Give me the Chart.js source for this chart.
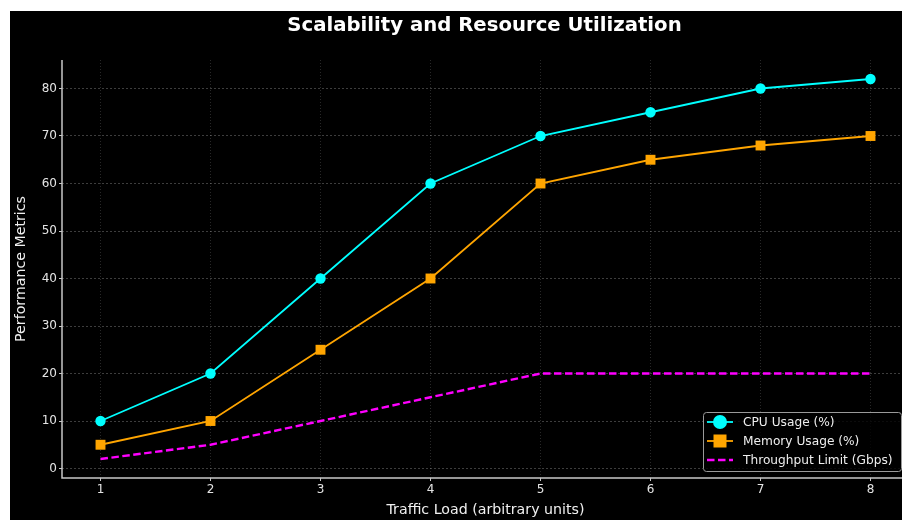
<!DOCTYPE html>
<html>
<head>
<meta charset="utf-8">
<script src="https://cdn.jsdelivr.net/npm/chart.js@4.4.1/dist/chart.umd.min.js"></script>
<style>
  html, body { margin: 0; padding: 0; background: #ffffff; }
  #frame { position: absolute; left: 10px; top: 11px; width: 892px; height: 509px; background: #000000; overflow: hidden; }
  #chart { display: block; }
</style>
</head>
<body>
<div id="frame"><canvas id="chart" width="920" height="509"></canvas></div>
<script>
// Traffic load steps and measured metrics
const trafficLoad = [1, 2, 3, 4, 5, 6, 7, 8];
const cpuUsage = [10, 20, 40, 60, 70, 75, 80, 82];
const memoryUsage = [5, 10, 25, 40, 60, 65, 68, 70];
const throughputLimit = [2, 5, 10, 15, 20, 20, 20, 20];
const yTickValues = [0, 10, 20, 30, 40, 50, 60, 70, 80];
const xTickValues = [1, 2, 3, 4, 5, 6, 7, 8];

const titleText = 'Scalability and Resource Utilization';
const FONT = '"DejaVu Sans", "Liberation Sans", sans-serif';
const AXIS_COLOR = '#c8c8c8';

const toPoints = (vals) => trafficLoad.map((x, i) => ({ x: x, y: vals[i] }));

// Title centred over the plot area, plus solid left/bottom spines
const framePlugin = {
  id: 'plotFrame',
  afterDraw(chart) {
    const { ctx, chartArea } = chart;
    ctx.save();
    ctx.fillStyle = '#ffffff';
    ctx.font = 'bold 19.7px ' + FONT;
    ctx.textAlign = 'center';
    ctx.textBaseline = 'middle';
    ctx.fillText(titleText, (chartArea.left + chartArea.right) / 2 - 1, 15);
    ctx.restore();
  },
  afterDatasetsDraw(chart) {
    const { ctx, chartArea } = chart;
    ctx.save();
    ctx.setLineDash([]);
    ctx.strokeStyle = AXIS_COLOR;
    ctx.lineWidth = 1.5;
    ctx.beginPath();
    ctx.moveTo(chartArea.left, chartArea.top);
    ctx.lineTo(chartArea.left, chartArea.bottom);
    ctx.lineTo(chartArea.right, chartArea.bottom);
    ctx.stroke();
    ctx.restore();
  }
};

// Legend box in the lower-right corner of the plot
const legendPlugin = {
  id: 'insetLegend',
  afterDatasetsDraw(chart) {
    const { ctx, chartArea } = chart;
    const boxW = 198, boxH = 59;
    const bx = chartArea.right - 206, by = chartArea.bottom - 66;
    ctx.save();
    ctx.beginPath();
    ctx.roundRect(bx + 0.5, by + 0.5, boxW, boxH, 3);
    ctx.fillStyle = 'rgba(0,0,0,0.8)';
    ctx.fill();
    ctx.strokeStyle = '#9a9a9a';
    ctx.lineWidth = 1;
    ctx.stroke();
    chart.data.datasets.forEach((ds, i) => {
      const cy = by + 10 + i * 19;
      const x0 = bx + 4, x1 = bx + 30, mx = (x0 + x1) / 2;
      ctx.beginPath();
      ctx.setLineDash(ds.borderDash || []);
      ctx.strokeStyle = ds.borderColor;
      ctx.lineWidth = ds.borderWidth;
      ctx.moveTo(x0, cy);
      ctx.lineTo(x1, cy);
      ctx.stroke();
      ctx.setLineDash([]);
      if (ds.pointRadius > 0) {
        ctx.fillStyle = ds.pointBackgroundColor;
        ctx.beginPath();
        if (ds.pointStyle === 'rect') {
          ctx.rect(mx - 6.5, cy - 6.5, 13, 13);
        } else {
          ctx.arc(mx, cy, 7, 0, Math.PI * 2);
        }
        ctx.fill();
      }
      ctx.fillStyle = '#eeeeee';
      ctx.font = '12.2px ' + FONT;
      ctx.textAlign = 'left';
      ctx.textBaseline = 'middle';
      ctx.fillText(ds.label, bx + 40, cy + 1);
    });
    ctx.restore();
  }
};

const tickFont = { family: FONT, size: 12 };
const labelFont = { family: FONT, size: 14.2 };

new Chart(document.getElementById('chart'), {
  type: 'line',
  data: {
    datasets: [
      {
        label: 'CPU Usage (%)',
        data: toPoints(cpuUsage),
        borderColor: '#00ffff',
        backgroundColor: '#00ffff',
        pointBackgroundColor: '#00ffff',
        pointBorderColor: '#00ffff',
        borderWidth: 1.8,
        pointStyle: 'circle',
        pointRadius: 5.2,
        pointBorderWidth: 0,
        tension: 0
      },
      {
        label: 'Memory Usage (%)',
        data: toPoints(memoryUsage),
        borderColor: '#ffa500',
        backgroundColor: '#ffa500',
        pointBackgroundColor: '#ffa500',
        pointBorderColor: '#ffa500',
        borderWidth: 1.8,
        pointStyle: 'rect',
        pointRadius: 7,
        pointBorderWidth: 0,
        tension: 0
      },
      {
        label: 'Throughput Limit (Gbps)',
        data: toPoints(throughputLimit),
        borderColor: '#ff00ff',
        backgroundColor: '#ff00ff',
        pointBackgroundColor: '#ff00ff',
        borderWidth: 2.4,
        borderDash: [7.5, 3.5],
        pointRadius: 0,
        tension: 0
      }
    ]
  },
  options: {
    responsive: false,
    animation: false,
    devicePixelRatio: 1,
    layout: { padding: { left: 0, right: 21, top: 49, bottom: 0 } },
    plugins: {
      legend: { display: false },
      title: { display: false },
      tooltip: { enabled: false }
    },
    scales: {
      x: {
        type: 'linear',
        min: 0.65,
        max: 8.35,
        afterFit: (s) => { s.height = 42; },
        afterBuildTicks: (s) => { s.ticks = xTickValues.map(v => ({ value: v })); },
        border: { display: false, dash: [1, 2] },
        grid: {
          color: 'rgba(255,255,255,0.2)',
          lineWidth: 0.8,
          drawTicks: true,
          tickLength: 3,
          tickColor: AXIS_COLOR,
          tickBorderDash: [],
          tickWidth: 1
        },
        ticks: {
          color: '#e4e4e4',
          font: tickFont,
          padding: 2,
          maxRotation: 0,
          autoSkip: false,
          callback: (v) => String(v)
        },
        title: {
          display: true,
          text: 'Traffic Load (arbitrary units)',
          color: '#f0f0f0',
          font: labelFont,
          padding: { top: 0, bottom: 1 }
        }
      },
      y: {
        type: 'linear',
        min: -2,
        max: 86,
        afterFit: (s) => { s.width = 52; },
        afterBuildTicks: (s) => { s.ticks = yTickValues.map(v => ({ value: v })); },
        border: { display: false, dash: [2, 2] },
        grid: {
          color: 'rgba(255,255,255,0.3)',
          lineWidth: 0.8,
          drawTicks: true,
          tickLength: 3,
          tickColor: AXIS_COLOR,
          tickBorderDash: [],
          tickWidth: 1
        },
        ticks: {
          color: '#e4e4e4',
          font: tickFont,
          padding: 2,
          callback: (v) => String(v)
        },
        title: {
          display: true,
          text: 'Performance Metrics',
          color: '#f0f0f0',
          font: labelFont,
          padding: { top: 3, bottom: 0 }
        }
      }
    }
  },
  plugins: [framePlugin, legendPlugin]
});
</script>
</body>
</html>
